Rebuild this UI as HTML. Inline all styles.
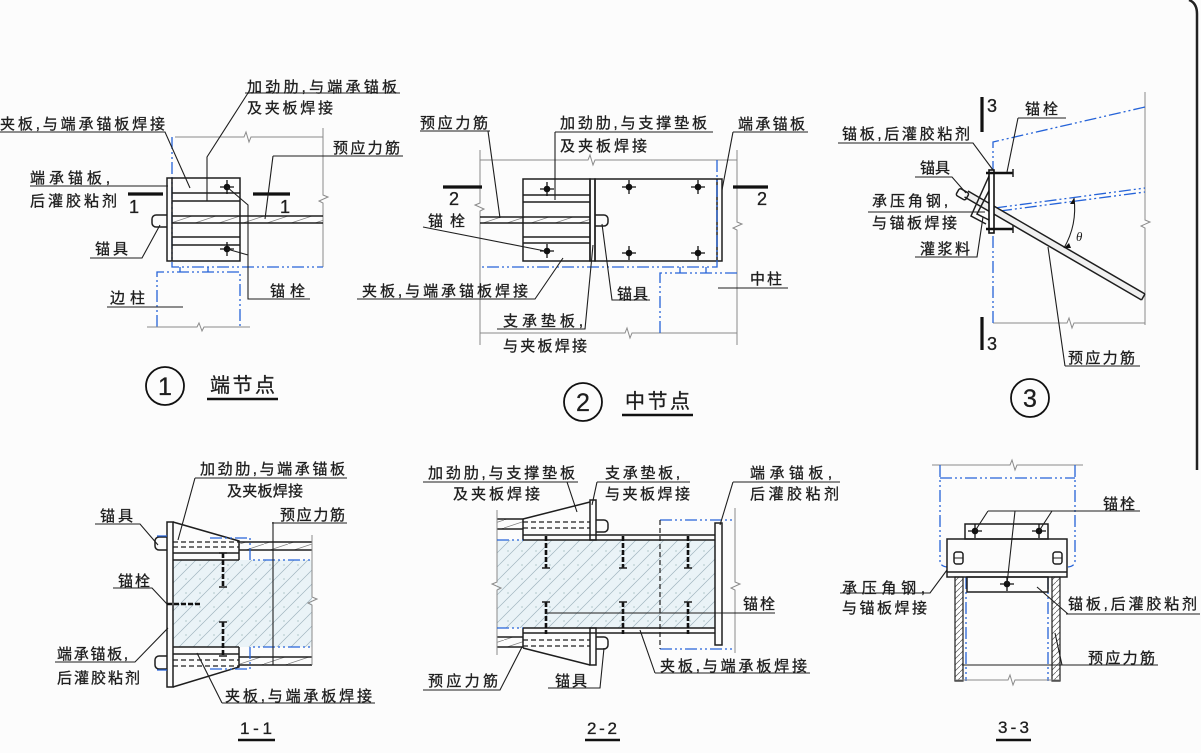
<!DOCTYPE html>
<html><head><meta charset="utf-8">
<style>
html,body{margin:0;padding:0;background:#fcfcfc;}
svg{display:block}
text{font-family:"Liberation Sans","Noto Sans CJK SC",sans-serif;fill:#1e1e1e;font-size:15px;stroke:#1e1e1e;stroke-width:0.3}
.k{stroke:#1e1e1e;stroke-width:1.5;fill:none}
.t{stroke:#1e1e1e;stroke-width:1.1;fill:none}
.g{stroke:#8a8a8a;stroke-width:1;fill:none}
.b{stroke:#2563d8;stroke-width:1.3;fill:none;stroke-dasharray:12 3 2 3 2 3}
.bs{stroke:#2563d8;stroke-width:1.3;fill:none}
.s{stroke:#111;stroke-width:3.2;fill:none}
.u{stroke:#111;stroke-width:2.4;fill:none}
.d{stroke:#1e1e1e;stroke-width:1.2;fill:none;stroke-dasharray:5 3}
.bd{stroke:#111;stroke-width:2.6;fill:none;stroke-dasharray:5 2}
.n{font-size:18px}
</style></head><body>
<svg width="1201" height="753" viewBox="0 0 1201 753" xmlns="http://www.w3.org/2000/svg">
<defs>
<pattern id="sh" width="24" height="8" patternUnits="userSpaceOnUse"><path d="M0 8 L24 0" stroke="#777" stroke-width="0.7"/></pattern>
<pattern id="cc" width="14" height="14" patternUnits="userSpaceOnUse"><rect width="14" height="14" fill="#eaf3f7"/><path d="M0 14 L14 0 M-3 3 L3 -3 M11 17 L17 11" stroke="#9fb4bf" stroke-width="0.7"/><circle cx="4" cy="5" r="0.6" fill="#8aa"/></pattern>
<pattern id="wh" width="6" height="6" patternUnits="userSpaceOnUse"><rect width="6" height="6" fill="#fff"/><path d="M0 6 L6 0" stroke="#555" stroke-width="0.7"/></pattern>
</defs>
<rect width="1201" height="753" fill="#fcfcfc"/>
<path d="M1189 0Q1197 3 1197 14V470" stroke="#222" stroke-width="2.5" fill="none"/>

<!-- ========== ① ========== -->
<path class="g" d="M175 137H244l2-5 3 10 2-5H323"/>
<path class="g" d="M323 128V195l5 2-9 4 4 2V267"/>
<path class="b" d="M172 137V267H323"/>
<rect x="172" y="216" width="151" height="7" fill="url(#sh)"/>
<path class="k" d="M172 216H323M172 223H323"/>
<rect class="k" x="167" y="178" width="73" height="83"/>
<path class="k" d="M172 178V261M172 193H240M172 201H240M172 237H240M172 245H240"/>
<path class="k" d="M167 215H156a4 4 0 0 0-4 4v4a4 4 0 0 0 4 4H167"/>
<g transform="translate(227 187)"><circle r="3.3" fill="#111"/><path d="M-7 0H7M0 -7V7" stroke="#111" stroke-width="1.3"/></g>
<g transform="translate(227 249)"><circle r="3.3" fill="#111"/><path d="M-7 0H7M0 -7V7" stroke="#111" stroke-width="1.3"/></g>
<path class="b" d="M157 327V272H240V327"/>
<path class="bs" d="M180 267V272M208 267V272"/>
<path class="g" d="M147 327H197l2-4 3 8 2-4H250"/>
<path class="s" d="M128 194H163M253 194H290"/>
<path class="t" d="M245 93H400M248 93L207 157V201"/>
<path class="t" d="M0 132H165L190 188"/>
<path class="t" d="M30 186H168"/>
<path class="t" d="M90 258H142L160 225"/>
<path class="t" d="M273 156H403M273 156L265 219"/>
<path class="t" d="M227 187L248 205V299H310M227 249L248 255"/>
<path class="t" d="M107 307H183"/>
<text x="247" y="92" textLength="150" lengthAdjust="spacing">加劲肋,与端承锚板</text>
<text x="247" y="113" textLength="86" lengthAdjust="spacing">及夹板焊接</text>
<text x="0" y="129" textLength="165" lengthAdjust="spacing">夹板,与端承锚板焊接</text>
<text x="30" y="183" textLength="80" lengthAdjust="spacing">端承锚板,</text>
<text x="30" y="206" textLength="87" lengthAdjust="spacing">后灌胶粘剂</text>
<text x="95" y="254" textLength="33" lengthAdjust="spacing">锚具</text>
<text x="110" y="303" textLength="35" lengthAdjust="spacing">边柱</text>
<text x="270" y="296" textLength="35" lengthAdjust="spacing">锚栓</text>
<text x="333" y="153" textLength="67" lengthAdjust="spacing">预应力筋</text>
<text class="n" x="129" y="213">1</text>
<text class="n" x="280" y="213">1</text>

<circle cx="165" cy="386" r="19" fill="none" stroke="#111" stroke-width="1.8"/>
<text x="165" y="395" text-anchor="middle" style="font-size:25px">1</text>
<text x="210" y="392" textLength="65" lengthAdjust="spacing" style="font-size:20px">端节点</text>
<path class="u" d="M207 399H278"/>

<!-- ========== ② ========== -->
<path class="g" d="M480 160H588l2-5 3 10 2-5H737"/>
<path class="g" d="M480 333H625l2-5 3 10 2-5H737"/>
<path class="g" d="M480 150V203l-5 2 9 4-4 2V345"/>
<path class="g" d="M737 150V222l5 2-9 4 4 2V345"/>
<rect x="480" y="217" width="110" height="6" fill="url(#sh)"/>
<path class="k" d="M480 217H590M480 223H590"/>
<rect class="k" x="523" y="179" width="67" height="82"/>
<path class="k" d="M523 195H590M523 202H590M523 237H590M523 243H590"/>
<rect class="k" x="590" y="179" width="5" height="82"/>
<rect class="k" x="595" y="179" width="127" height="82"/>
<path class="k" d="M717 179V261"/>
<path class="k" d="M595 215H604a4 4 0 0 1 4 4v3a4 4 0 0 1-4 4H595"/>
<g transform="translate(547 189)"><circle r="3.3" fill="#111"/><path d="M-7 0H7M0 -7V7" stroke="#111" stroke-width="1.3"/></g>
<g transform="translate(547 251)"><circle r="3.3" fill="#111"/><path d="M-7 0H7M0 -7V7" stroke="#111" stroke-width="1.3"/></g>
<g transform="translate(629 187)"><circle r="3.3" fill="#111"/><path d="M-7 0H7M0 -7V7" stroke="#111" stroke-width="1.3"/></g>
<g transform="translate(698 187)"><circle r="3.3" fill="#111"/><path d="M-7 0H7M0 -7V7" stroke="#111" stroke-width="1.3"/></g>
<g transform="translate(629 253)"><circle r="3.3" fill="#111"/><path d="M-7 0H7M0 -7V7" stroke="#111" stroke-width="1.3"/></g>
<g transform="translate(698 253)"><circle r="3.3" fill="#111"/><path d="M-7 0H7M0 -7V7" stroke="#111" stroke-width="1.3"/></g>
<path class="b" d="M717 160V267H480"/>
<path class="b" d="M660 333V273H737"/>
<path class="bs" d="M680 267V273M706 267V273"/>
<path class="s" d="M443 187H482M733 187H768"/>
<path class="t" d="M420 131H490M488 131L500 218"/>
<path class="t" d="M555 132H713M555 132V200"/>
<path class="t" d="M733 132H808M733 132L722 190"/>
<path class="t" d="M423 227L545 251"/>
<path class="t" d="M357 299H535L563 258"/>
<path class="t" d="M497 329H585L593 245"/>
<path class="t" d="M650 300H612L602 224"/>
<path class="t" d="M718 288H788"/>
<text x="420" y="128" textLength="68" lengthAdjust="spacing">预应力筋</text>
<text x="560" y="128" textLength="147" lengthAdjust="spacing">加劲肋,与支撑垫板</text>
<text x="560" y="151" textLength="87" lengthAdjust="spacing">及夹板焊接</text>
<text x="738" y="129" textLength="67" lengthAdjust="spacing">端承锚板</text>
<text x="428" y="226" textLength="37" lengthAdjust="spacing">锚栓</text>
<text x="362" y="296" textLength="166" lengthAdjust="spacing">夹板,与端承锚板焊接</text>
<text x="503" y="326" textLength="80" lengthAdjust="spacing">支承垫板,</text>
<text x="503" y="351" textLength="84" lengthAdjust="spacing">与夹板焊接</text>
<text x="617" y="299" textLength="31" lengthAdjust="spacing">锚具</text>
<text x="750" y="284" textLength="32" lengthAdjust="spacing">中柱</text>
<text class="n" x="449" y="205">2</text>
<text class="n" x="757" y="205">2</text>

<circle cx="583" cy="402" r="19" fill="none" stroke="#111" stroke-width="1.8"/>
<text x="583" y="411" text-anchor="middle" style="font-size:25px">2</text>
<text x="625" y="408" textLength="65" lengthAdjust="spacing" style="font-size:20px">中节点</text>
<path class="u" d="M622 415H693"/>

<!-- ========== ③ ========== -->
<path class="s" d="M982 97V132M982 317V350"/>
<path class="g" d="M1145 92V220l5 2-9 4 4 2V325"/>
<path class="g" d="M993 323H1067l2-5 3 10 2-5H1145"/>
<path class="b" d="M993 323V142L1145 107"/>
<path class="b" d="M995 208L1145 188M1000 211L1145 192"/>
<path d="M968 191L1145 294L1141.5 300L964.5 197Z" fill="#f0f0f0"/>
<path class="k" d="M968 191L1145 294M964.5 197L1141.5 300M1145 294L1141.5 300"/>
<path class="k" d="M989 176L971 216L986 224M993 183L977 214L989 220"/>
<rect x="989" y="170" width="5" height="63" fill="#fff" stroke="#111" stroke-width="1.6"/>
<path stroke="#111" stroke-width="2.6" fill="none" d="M986 173H1013M986 229H1013"/>
<path class="k" d="M1013 169V177M1013 225V233"/>
<rect x="957" y="190" width="11" height="8" rx="2" transform="rotate(30 962 194)" class="k" fill="#fff"/>
<path class="t" d="M1074 198A80 80 0 0 1 1064 248"/>
<path d="M1074 198l-4 6 5 0z M1064 248l5-5 2 5z" fill="#111"/>
<text x="1076" y="241" style="font-size:13px;font-style:italic;font-family:'Liberation Serif',serif;stroke-width:0">θ</text>
<path class="t" d="M1018 118H1066M1018 118L1007 172"/>
<path class="t" d="M838 143H973L993 170"/>
<path class="t" d="M915 177H952L966 193"/>
<path class="t" d="M868 212H985"/>
<path class="t" d="M915 257H977L983 217"/>
<path class="t" d="M1065 366H1140M1065 366L1048 247"/>
<text x="1025" y="114" textLength="33" lengthAdjust="spacing">锚栓</text>
<text x="842" y="139" textLength="128" lengthAdjust="spacing">锚板,后灌胶粘剂</text>
<text x="920" y="173" textLength="30" lengthAdjust="spacing">锚具</text>
<text x="872" y="206" textLength="76" lengthAdjust="spacing">承压角钢,</text>
<text x="872" y="228" textLength="85" lengthAdjust="spacing">与锚板焊接</text>
<text x="920" y="254" textLength="50" lengthAdjust="spacing">灌浆料</text>
<text x="1068" y="363" textLength="67" lengthAdjust="spacing">预应力筋</text>
<text class="n" x="987" y="112">3</text>
<text class="n" x="987" y="350">3</text>

<circle cx="1030" cy="398" r="19" fill="none" stroke="#111" stroke-width="1.8"/>
<text x="1030" y="407" text-anchor="middle" style="font-size:25px">3</text>

<!-- ========== 1-1 ========== -->
<rect x="173" y="560" width="139" height="87" fill="url(#cc)"/>
<rect x="239" y="542" width="73" height="8" fill="url(#sh)"/>
<rect x="239" y="657" width="73" height="8" fill="url(#sh)"/>
<path class="k" d="M239 542H312M239 550H312M239 657H312M239 665H312"/>
<rect class="k" x="167" y="522" width="6" height="165"/>
<path class="k" d="M173 522L239 541V560M173 687L239 667V647"/>
<path class="d" d="M173 542H239M173 547H239M173 660H239M173 666H239"/>
<path class="k" d="M173 553H239M173 560H239M173 647H239M173 654H239"/>
<path class="b" d="M210 538H250V560H312M210 669H250V647H312"/>
<path class="t" d="M273 522V665"/>
<path class="g" d="M312 535V597l5 2-9 4 4 2V665"/>
<path class="bd" d="M223 553V587M223 622V656"/>
<path class="k" d="M219 553H227M219 587H227M219 622H227M219 656H227"/>
<path class="bd" d="M167 604H200"/>
<path class="k" d="M167 537H159a4 4 0 0 0-4 4v5a4 4 0 0 0 4 4H167M167 656H159a4 4 0 0 0-4 4v5a4 4 0 0 0 4 4H167"/>
<path class="bs" d="M157 536H167M157 670H167"/>
<path class="t" d="M195 478H347M195 478L178 540"/>
<path class="t" d="M95 524H140L158 545"/>
<path class="t" d="M272 523H347"/>
<path class="t" d="M113 588H152L167 604"/>
<path class="t" d="M55 662H135L168 628"/>
<path class="t" d="M222 703H375M222 703L197 653"/>
<text x="200" y="474" textLength="145" lengthAdjust="spacing">加劲肋,与端承锚板</text>
<text x="227" y="496" textLength="76" lengthAdjust="spacing">及夹板焊接</text>
<text x="100" y="521" textLength="33" lengthAdjust="spacing">锚具</text>
<text x="280" y="520" textLength="65" lengthAdjust="spacing">预应力筋</text>
<text x="118" y="586" textLength="32" lengthAdjust="spacing">锚栓</text>
<text x="57" y="659" textLength="71" lengthAdjust="spacing">端承锚板,</text>
<text x="57" y="683" textLength="83" lengthAdjust="spacing">后灌胶粘剂</text>
<text x="225" y="701" textLength="147" lengthAdjust="spacing">夹板,与端承板焊接</text>
<text x="240" y="734" textLength="32" lengthAdjust="spacing" style="font-size:17px">1-1</text>
<path class="u" d="M238 740H275"/>

<!-- ========== 2-2 ========== -->
<rect x="497" y="540" width="218" height="88" fill="url(#cc)"/>
<rect x="497" y="519" width="26" height="10" fill="url(#sh)"/>
<rect x="497" y="637" width="26" height="10" fill="url(#sh)"/>
<path class="k" d="M497 519H523M497 529H523M497 637H523M497 647H523"/>
<path class="g" d="M497 510V582l-5 2 9 4-4 2V655"/>
<path class="k" d="M523 519V540M523 628V648"/>
<path class="k" d="M523 519L590 502M523 648L590 665"/>
<rect class="k" x="590" y="500" width="6" height="40"/>
<rect class="k" x="590" y="628" width="6" height="37"/>
<path class="d" d="M523 522H590M523 528H590M523 640H590M523 646H590"/>
<path class="k" d="M523 535H715M523 540H715M523 628H715M523 633H715"/>
<path class="k" d="M596 520H604a4 4 0 0 1 4 4v4a4 4 0 0 1-4 4H596M596 637H604a4 4 0 0 1 4 4v4a4 4 0 0 1-4 4H596"/>
<rect class="k" x="715" y="523" width="7" height="122" fill="#fff"/>
<path class="b" d="M497 540H523M497 628H523"/>
<path class="b" d="M660 520H735M660 649H735"/>
<path class="d" d="M660 520V649"/>
<path class="g" d="M735 508V582l5 2-9 4 4 2V653"/>
<path class="bd" d="M546 536V568M546 602V634M623 536V568M623 602V634M688 536V568M688 602V634"/>
<path class="k" d="M542 568H550M542 602H550M619 568H627M619 602H627M684 568H692M684 602H692"/>
<path class="t" d="M546 613H775"/>
<path class="t" d="M423 482H578M567 482L577 512"/>
<path class="t" d="M597 482H690M597 482L592 505"/>
<path class="t" d="M733 482H840M733 482L720 525"/>
<path class="t" d="M655 673H810M655 673L640 630"/>
<path class="t" d="M423 690H500L522 647"/>
<path class="t" d="M548 688H600L604 648"/>
<text x="428" y="478" textLength="147" lengthAdjust="spacing">加劲肋,与支撑垫板</text>
<text x="453" y="499" textLength="87" lengthAdjust="spacing">及夹板焊接</text>
<text x="605" y="478" textLength="75" lengthAdjust="spacing">支承垫板,</text>
<text x="605" y="499" textLength="85" lengthAdjust="spacing">与夹板焊接</text>
<text x="750" y="478" textLength="82" lengthAdjust="spacing">端承锚板,</text>
<text x="750" y="499" textLength="89" lengthAdjust="spacing">后灌胶粘剂</text>
<text x="743" y="609" textLength="32" lengthAdjust="spacing">锚栓</text>
<text x="660" y="671" textLength="147" lengthAdjust="spacing">夹板,与端承板焊接</text>
<text x="428" y="686" textLength="70" lengthAdjust="spacing">预应力筋</text>
<text x="555" y="686" textLength="32" lengthAdjust="spacing">锚具</text>
<text x="587" y="734" textLength="30" lengthAdjust="spacing" style="font-size:17px">2-2</text>
<path class="u" d="M585 740H620"/>

<!-- ========== 3-3 ========== -->
<path class="g" d="M932 465H1010l2-5 3 10 2-5H1083"/>
<path class="b" d="M940 465V561q0 5 7 6M1075 465V561q0 5-7 6M940 478H1075"/>
<rect x="955" y="577" width="8" height="104" fill="url(#wh)" stroke="#1e1e1e" stroke-width="1.2"/>
<rect x="1052" y="577" width="8" height="104" fill="url(#wh)" stroke="#1e1e1e" stroke-width="1.2"/>
<path class="b" d="M966 577V681M1048 577V681"/>
<path class="g" d="M955 680H1008l2-5 3 10 2-5H1060"/>
<rect class="k" x="965" y="524" width="83" height="15" fill="#fff"/>
<rect class="k" x="947" y="539" width="120" height="38" fill="#fff"/>
<path class="k" d="M947 572H1067"/>
<rect class="k" x="967" y="577" width="81" height="15"/>
<rect class="k" x="954" y="552" width="9" height="12" rx="2.5"/>
<rect class="k" x="1053" y="552" width="9" height="12" rx="2.5"/>
<path class="t" d="M954 558H963M1053 558H1062"/>
<g transform="translate(975 531)"><circle r="3.3" fill="#111"/><path d="M-7 0H7M0 -7V7" stroke="#111" stroke-width="1.3"/></g>
<g transform="translate(1039 531)"><circle r="3.3" fill="#111"/><path d="M-7 0H7M0 -7V7" stroke="#111" stroke-width="1.3"/></g>
<g transform="translate(1007 584)"><circle r="3.3" fill="#111"/><path d="M-7 0H7M0 -7V7" stroke="#111" stroke-width="1.3"/></g>
<path class="t" d="M988 511H1140M988 511L975 531M1052 511L1039 531M1015 511L1007 584"/>
<path class="t" d="M840 593H930L947 570"/>
<path class="t" d="M1066 614H1200M1068 614L1037 587"/>
<path class="t" d="M962 665H1158M1062 665L1055 633"/>
<text x="1103" y="509" textLength="32" lengthAdjust="spacing">锚栓</text>
<text x="842" y="593" textLength="83" lengthAdjust="spacing">承压角钢,</text>
<text x="842" y="613" textLength="85" lengthAdjust="spacing">与锚板焊接</text>
<text x="1068" y="609" textLength="129" lengthAdjust="spacing">锚板,后灌胶粘剂</text>
<text x="1088" y="663" textLength="67" lengthAdjust="spacing">预应力筋</text>
<text x="998" y="733" textLength="31" lengthAdjust="spacing" style="font-size:17px">3-3</text>
<path class="u" d="M996 740H1031"/>
</svg>
</body></html>
